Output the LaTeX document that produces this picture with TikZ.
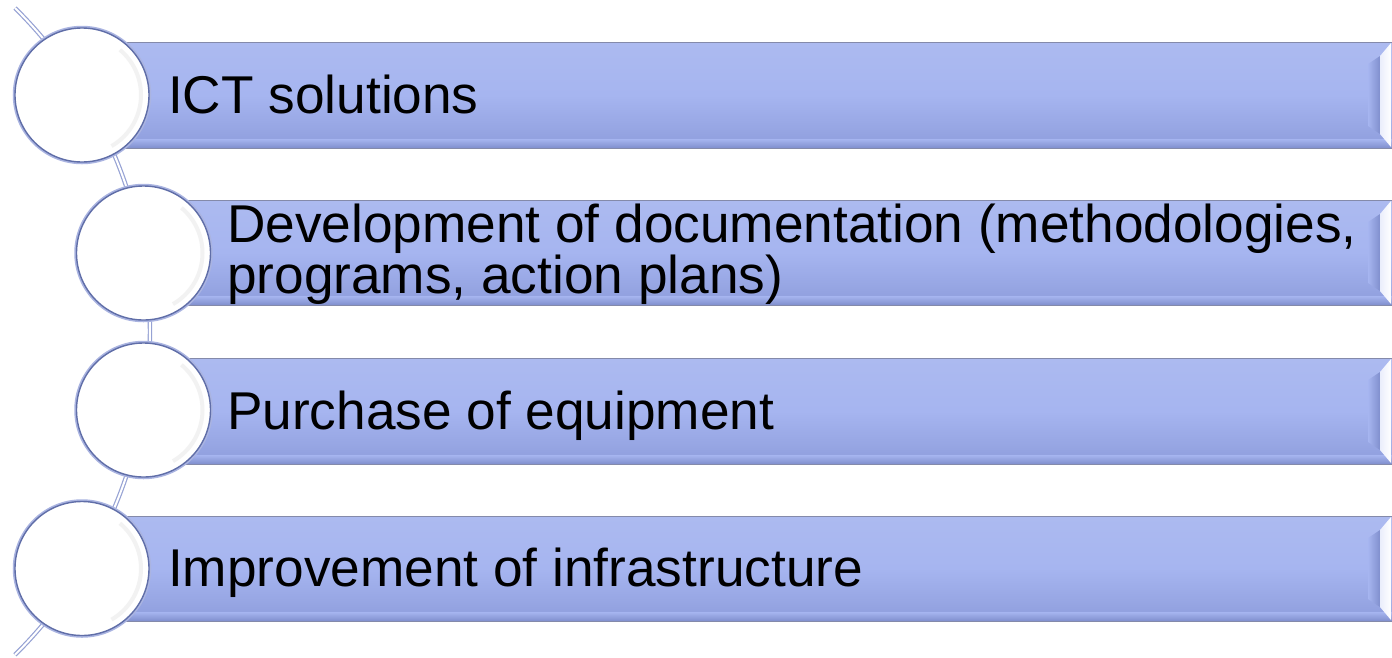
\documentclass[tikz,border=0pt]{standalone}
\usepackage{fontspec}
\setmainfont{Liberation Sans}
\usetikzlibrary{calc}
\definecolor{barTop}{RGB}{172,186,240}
\definecolor{barMid}{RGB}{166,181,240}
\definecolor{barBot}{RGB}{142,157,220}
\definecolor{barLine}{RGB}{132,138,170}
\definecolor{bevDark}{RGB}{128,143,205}
\definecolor{arcCol}{RGB}{150,162,212}
\definecolor{circLine}{RGB}{96,110,168}
\definecolor{circGlow}{RGB}{170,180,225}
\newcommand\bevelbar[3]{%
  \shade[top color=barTop, bottom color=barBot, middle color=barMid] (#1,#2) rectangle (1392,#3);
  \shade[top color=barMid, bottom color=bevDark] (#1,#3-9) rectangle (1392,#3);
  \shade[left color=barMid, right color=bevDark] (1368,#2+22) -- (1380,#2+14) -- (1380,#3-14) -- (1368,#3-22) -- cycle;
  \shade[left color=white!75!barTop, right color=white] (1380,#2+14) -- (1391,#2+1) -- (1391,#3-1) -- (1380,#3-14) -- cycle;
  \draw[barLine, line width=1pt] (#1,#2) rectangle (1392,#3);
}
\tikzset{
  bigcirc/.style={circle, minimum size=134pt, inner sep=0pt, draw=circLine, line width=1.4pt, fill=white},
  glowcirc/.style={circle, minimum size=136pt, inner sep=0pt, draw=circGlow, line width=2.5pt},
  lbl/.style={font=\fontsize{53.2}{51}\selectfont, text=black, inner sep=0pt, align=left},
  backbone/.style={draw=arcCol, double=white, line width=1.2pt, double distance=2pt}
}
\newcommand\ringshade[1]{%
  \draw[black!5, line width=4pt] ($(#1)+(-60:59pt)$) arc[start angle=-60, end angle=50, radius=59pt];
}
\begin{document}
\begin{tikzpicture}[x=1pt,y=-1pt]
\useasboundingbox (0,0) rectangle (1392,657);
\fill[white] (0,0) rectangle (1392,657);
% backbone arc
\coordinate (arcstart) at (15,8);
\draw[backbone] (arcstart) arc[start angle=45.3, end angle=-45.3, radius=455pt];
% bars
\bevelbar{120}{42}{148}
\bevelbar{180}{200}{305}
\bevelbar{180}{358}{464}
\bevelbar{120}{516}{621}
% circles
\node[glowcirc] (g1) at (82,95) {};
\node[glowcirc] (g2) at (143.5,253) {};
\node[glowcirc] (g3) at (143.5,410) {};
\node[glowcirc] (g4) at (82,568.5) {};
\node[bigcirc] (c1) at (82,95) {};
\node[bigcirc] (c2) at (143.5,253) {};
\node[bigcirc] (c3) at (143.5,410) {};
\node[bigcirc] (c4) at (82,568.5) {};
\ringshade{c1}\ringshade{c2}\ringshade{c3}\ringshade{c4}
% labels
\node[lbl, anchor=base west] (t1) at (168,113) {ICT solutions};
\node[lbl, anchor=base west] (t2) at (227,293) {Development of documentation (methodologies,\\programs, action plans)};
\node[lbl, anchor=base west] (t3) at (227,429) {Purchase of equipment};
\node[lbl, anchor=base west] (t4) at (168,586) {Improvement of infrastructure};
\end{tikzpicture}
\end{document}
